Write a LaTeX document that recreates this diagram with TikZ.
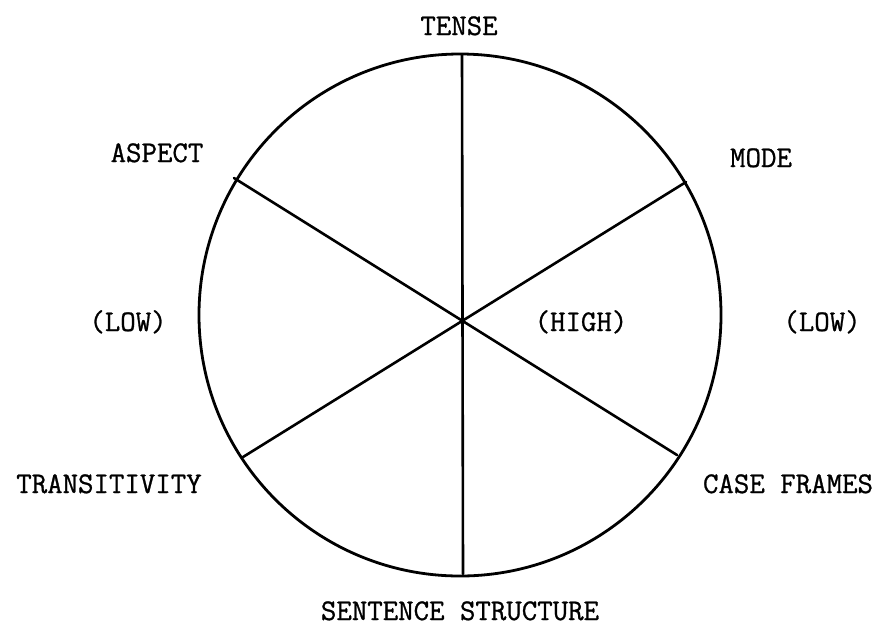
\documentclass[tikz,border=0pt]{standalone}
\usepackage{fontspec}
\setmonofont[FakeBold=0.9]{Latin Modern Mono}
\usetikzlibrary{calc}
\begin{document}
\begin{tikzpicture}[x=1pt,y=-1pt,
  lbl/.style={font=\ttfamily\fontsize{30}{30}\selectfont, inner sep=0pt, anchor=base},
  ln/.style={line width=2.6pt, line cap=round}]
\useasboundingbox (0,0) rectangle (880,625);
\coordinate (c) at (460,315);
\node[draw, circle, line width=2.8pt, minimum size=522pt, inner sep=0pt] (circ) at (c) {};
\coordinate (t) at (462,55);
\coordinate (b) at (463,574);
\coordinate (ur) at ($(c)+(226,-133)$);
\coordinate (ll) at ($(c)+(-217,142)$);
\coordinate (ul) at ($(c)+(-226,-137)$);
\coordinate (lr) at ($(c)+(217,140)$);
\draw[ln] (t) -- (b);
\draw[ln] (ur) -- (ll);
\draw[ln] (ul) -- (lr);
\node[lbl] (tense) at (459,35) {TENSE};
\node[lbl] (mode) at (761,167) {MODE};
\node[lbl] (aspect) at (157,162) {ASPECT};
\node[lbl] (lowl) at (128,331) {(LOW)};
\node[lbl] (high) at (581,331) {(HIGH)};
\node[lbl] (lowr) at (822,331) {(LOW)};
\node[lbl] (trans) at (109,493) {TRANSITIVITY};
\node[lbl] (case) at (788,493) {CASE FRAMES};
\node[lbl] (sent) at (460,620) {SENTENCE STRUCTURE};
\end{tikzpicture}
\end{document}
